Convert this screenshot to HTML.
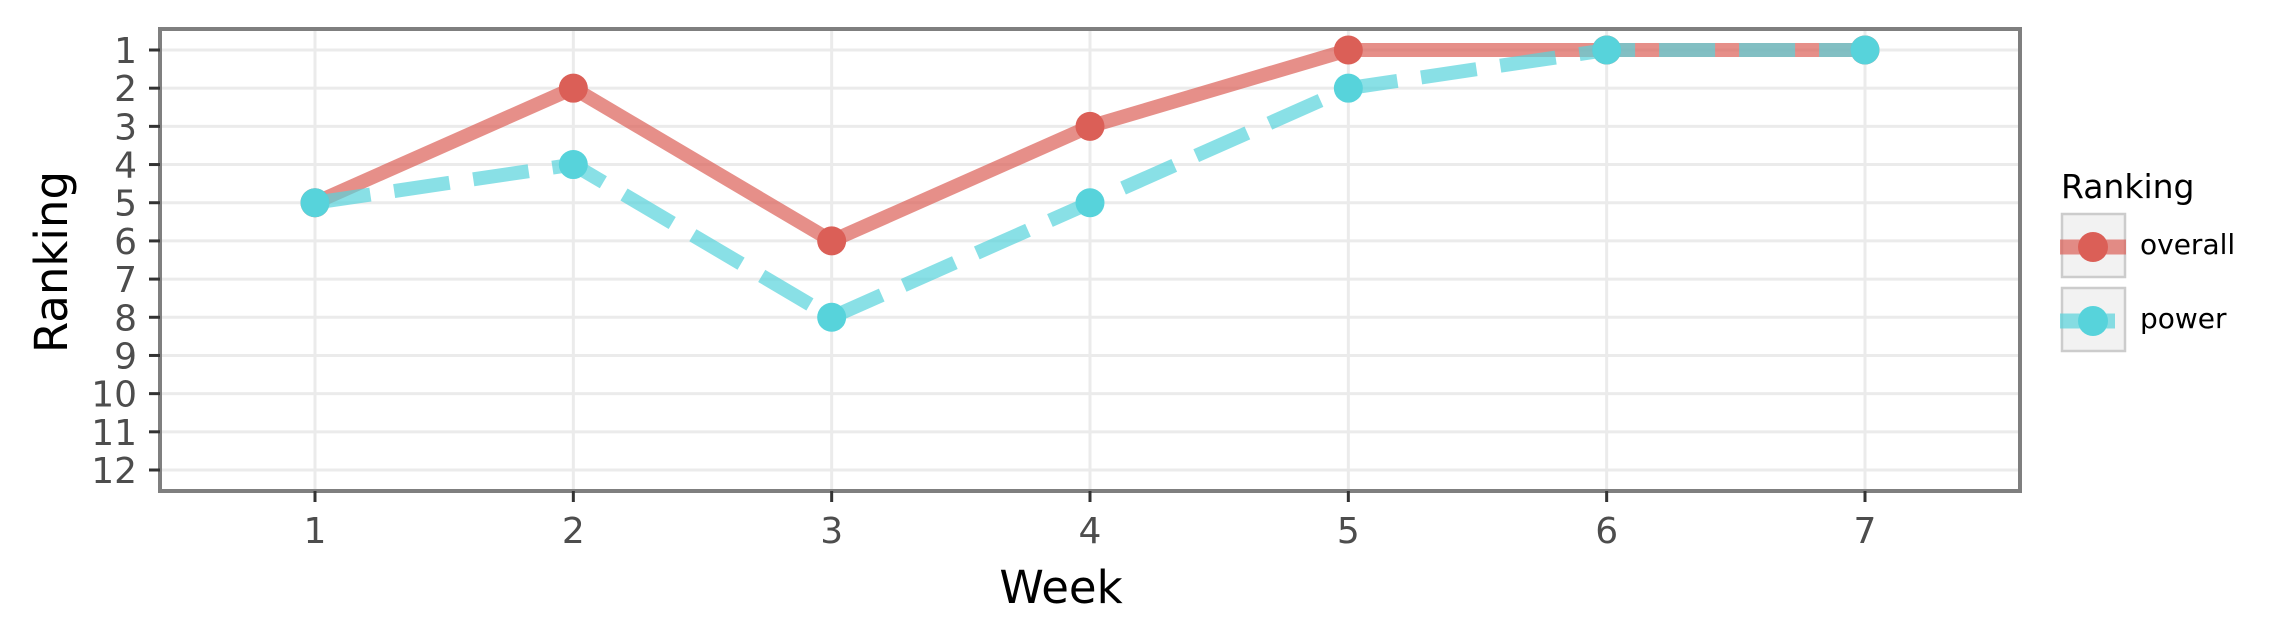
<!DOCTYPE html>
<html><head><meta charset="utf-8"><style>
html,body{margin:0;padding:0;background:#fff;}
svg{display:block;font-family:"DejaVu Sans","Liberation Sans",sans-serif;}
</style></head><body>
<svg id="chart" width="2276" height="642" viewBox="0 0 2276 642">
<rect x="160" y="29" width="1860" height="462" fill="#fff" stroke="#7f7f7f" stroke-width="4"/>
<g id="grid"></g>
<g id="series"></g>
<g id="axes"></g>
<text x="1061" y="603" font-size="45" text-anchor="middle" fill="#000">Week</text>
<text transform="translate(67,262) rotate(-90)" font-size="45" text-anchor="middle" fill="#000">Ranking</text>
<g>
<text x="2061" y="198" font-size="33" fill="#000">Ranking</text>
<g>
<rect x="2062" y="214" width="63" height="63" fill="#f2f2f2" stroke="#cccccc" stroke-width="2.5"/>
<line x1="2060" y1="247" x2="2126" y2="247" stroke="#db5f57" stroke-opacity="0.7" stroke-width="15"/>
<circle cx="2093" cy="247" r="15" fill="#db5f57"/>
<text x="2140" y="254" font-size="28" fill="#000">overall</text>
</g>
<g>
<rect x="2062" y="288" width="63" height="63" fill="#f2f2f2" stroke="#cccccc" stroke-width="2.5"/>
<line x1="2060" y1="321" x2="2115" y2="321" stroke="#57d3db" stroke-opacity="0.7" stroke-width="15"/>
<circle cx="2093" cy="321" r="15" fill="#57d3db"/>
<text x="2140" y="328" font-size="28" fill="#000">power</text>
</g>
</g>
</svg>
<script>
const weeks = [1,2,3,4,5,6,7];
const overall = [5,2,6,3,1,1,1];
const power = [5,4,8,5,2,1,1];
const yTicks = [1,2,3,4,5,6,7,8,9,10,11,12];
const xTicks = [1,2,3,4,5,6,7];

const NS="http://www.w3.org/2000/svg";
function xs(v){return 315+(v-1)*(1865-315)/6;}
function ys(v){return 50+(v-1)*(470-50)/11;}
function mk(tag,attrs,parent){const e=document.createElementNS(NS,tag);for(const k in attrs)e.setAttribute(k,attrs[k]);parent.appendChild(e);return e;}
const grid=document.getElementById('grid'),axes=document.getElementById('axes'),series=document.getElementById('series');
yTicks.forEach(t=>{
  const l=mk('line',{x1:162,x2:2018,y1:ys(t),y2:ys(t),stroke:'#ebebeb','stroke-width':3},grid);
  
  
  const tk=mk('line',{x1:149,x2:160,y1:ys(t),y2:ys(t),stroke:'#333','stroke-width':3},axes);
  
  
  const tx=mk('text',{x:137,y:ys(t)+13,'font-size':36,'text-anchor':'end',fill:'#4d4d4d'},axes);
  tx.textContent=t;
  
  
});
xTicks.forEach(t=>{
  const l=mk('line',{x1:xs(t),x2:xs(t),y1:31,y2:489,stroke:'#ebebeb','stroke-width':3},grid);
  
  
  const tk=mk('line',{x1:xs(t),x2:xs(t),y1:491,y2:502,stroke:'#333','stroke-width':3},axes);
  
  
  const tx=mk('text',{x:xs(t),y:543,'font-size':36,'text-anchor':'middle',fill:'#4d4d4d'},axes);
  tx.textContent=t;
  
  
});
function drawSeries(vals,color,dash,name){
  const pts=weeks.map((w,i)=>xs(w)+','+ys(vals[i])).join(' ');
  const attrs={points:pts,fill:'none',stroke:color,'stroke-opacity':0.7,'stroke-width':14,'stroke-linejoin':'round'};
  if(dash)attrs['stroke-dasharray']=dash;
  const pl=mk('polyline',attrs,series);
  
  
  weeks.forEach((w,i)=>{
    const c=mk('circle',{cx:xs(w),cy:ys(vals[i]),r:14.5,fill:color},series);
    
    
  });
}
drawSeries(overall,'#db5f57',null,'overall');
drawSeries(power,'#57d3db','56 24','power');
</script>
</body></html>
